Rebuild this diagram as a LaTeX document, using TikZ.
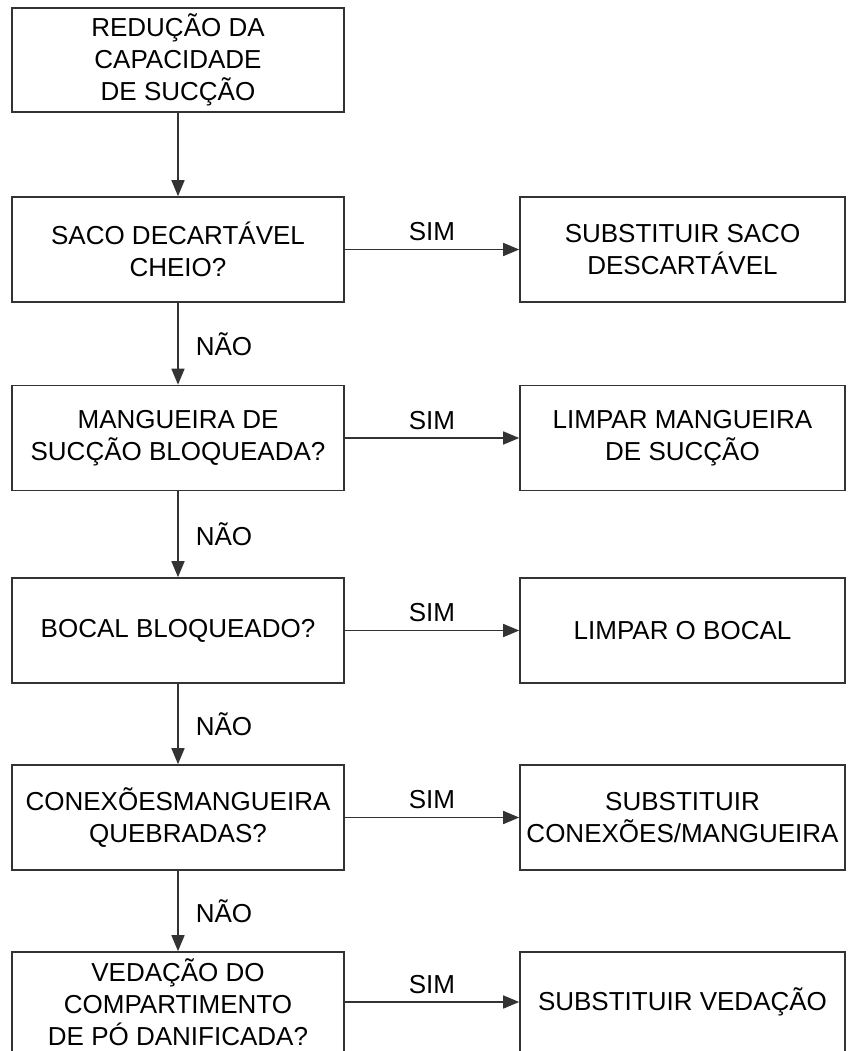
\documentclass[tikz,border=0pt]{standalone}
\usepackage{fontspec}
\setmainfont{Liberation Sans}
\usetikzlibrary{arrows.meta}
\begin{document}
\begin{tikzpicture}[x=1pt,y=-1pt,
 txt/.style={font=\fontsize{26}{32}\selectfont},
 box/.style={txt, draw=black!80, line width=1.6pt, minimum width=332pt, minimum height=105pt, align=center, inner sep=0pt},
 rbox/.style={box, minimum width=325pt},
 arr/.style={draw=black!80, line width=1.5pt, -{Triangle[length=16pt,width=13pt]}},
 lbl/.style={txt, inner sep=0pt}]
\useasboundingbox (0,0) rectangle (850,1051);
\node[box, minimum height=104pt] (b1) at (178,60) {REDUÇÃO DA\\CAPACIDADE\\DE SUCÇÃO};
\node[box] (b2) at (178,249.5) {SACO DECARTÁVEL\\CHEIO?};
\node[box] (b3) at (178,438) {MANGUEIRA DE\\SUCÇÃO BLOQUEADA?};
\node[box] (b4) at (178,630.5) {BOCAL BLOQUEADO?};
\node[box] (b5) at (178,817.5) {CONEXÕESMANGUEIRA\\QUEBRADAS?};
\node[box, minimum height=100pt] (b6) at (178,1002) {VEDAÇÃO DO\\COMPARTIMENTO\\DE PÓ DANIFICADA?};
\node[rbox] (r2) at (682.5,249.5) {SUBSTITUIR SACO\\DESCARTÁVEL};
\node[rbox] (r3) at (682.5,438) {LIMPAR MANGUEIRA\\DE SUCÇÃO};
\node[rbox] (r4) at (682.5,630.5) {LIMPAR O BOCAL};
\node[rbox] (r5) at (682.5,817.5) {SUBSTITUIR\\CONEXÕES/MANGUEIRA};
\node[rbox, minimum height=100pt] (r6) at (682.5,1002) {SUBSTITUIR VEDAÇÃO};
\draw[arr] (b1) -- (b2);
\draw[arr] (b2) -- node[lbl, midway, right=17pt] {NÃO} (b3);
\draw[arr] (b3) -- node[lbl, midway, right=17pt] {NÃO} (b4);
\draw[arr] (b4) -- node[lbl, midway, right=17pt] {NÃO} (b5);
\draw[arr] (b5) -- node[lbl, midway, right=17pt] {NÃO} (b6);
\draw[arr] (b2) -- node[lbl, midway, above=8pt] {SIM} (r2);
\draw[arr] (b3) -- node[lbl, midway, above=8pt] {SIM} (r3);
\draw[arr] (b4) -- node[lbl, midway, above=8pt] {SIM} (r4);
\draw[arr] (b5) -- node[lbl, midway, above=8pt] {SIM} (r5);
\draw[arr] (b6) -- node[lbl, midway, above=8pt] {SIM} (r6);
\end{tikzpicture}
\end{document}
